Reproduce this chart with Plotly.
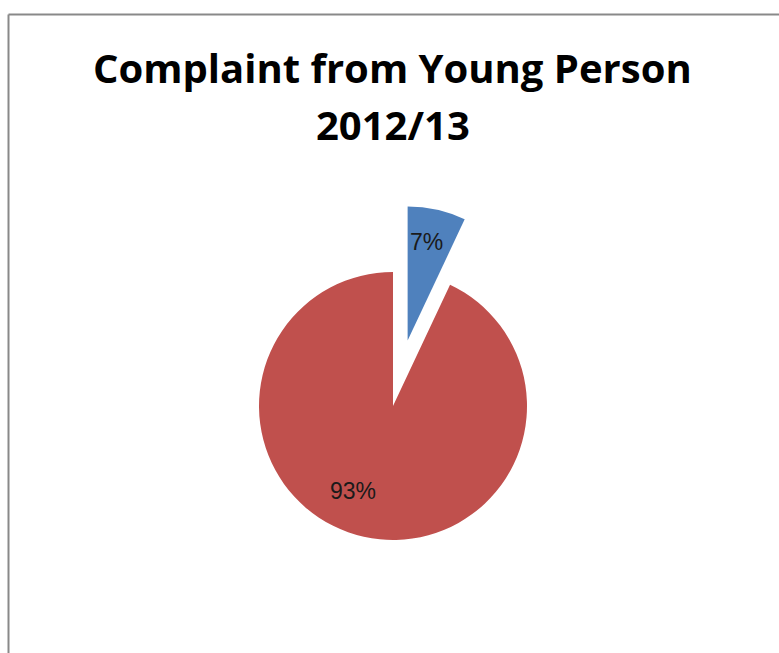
import math
import plotly.graph_objects as go

# Complaint source split, 2012/13
categories = ["Young Person", "Other"]
values = [7, 93]
colors = ["#4F81BD", "#C0504D"]
pulls = [0.5, 0.0]
title_lines = ["Complaint from Young Person", "2012/13"]

W, H = 779, 653

# pie placement in pixels (centre and full diameter including the pull)
cx, cy = 393.0, 406.0
r = 134.0
span = 2 * r * (1 + max(pulls))

dom_x = [(cx - span / 2) / W, (cx + span / 2) / W]
dom_y = [1 - (cy + span / 2) / H, 1 - (cy - span / 2) / H]

fig = go.Figure(
    go.Pie(
        labels=categories,
        values=values,
        marker=dict(colors=colors, line=dict(width=0)),
        pull=pulls,
        sort=False,
        direction="clockwise",
        rotation=0,
        textinfo="none",
        hoverinfo="label+percent",
        showlegend=False,
        domain=dict(x=dom_x, y=dom_y),
    )
)

# percentage labels placed inside each slice
total = sum(values)
label_radius = [0.75, 0.70]
label_angle_shift = [-2.0, 12.5]  # degrees, clockwise
cum = 0.0
for v, p, lr, shift in zip(values, pulls, label_radius, label_angle_shift):
    mid = (cum + v / 2) / total * 2 * math.pi
    cum += v
    ox = cx + p * r * math.sin(mid)
    oy = cy - p * r * math.cos(mid)
    a = mid + math.radians(shift)
    lx = ox + lr * r * math.sin(a)
    ly = oy - lr * r * math.cos(a)
    fig.add_annotation(
        x=lx / W, y=1 - ly / H, xref="paper", yref="paper",
        text=f"{round(v / total * 100)}%", showarrow=False,
        xanchor="center", yanchor="middle",
        font=dict(family="Liberation Sans", size=23, color="#1a1a1a"),
    )

# two-line chart title
title_font = dict(family="Open Sans", size=40, color="black", weight="bold")
for i, line in enumerate(title_lines):
    fig.add_annotation(
        x=392.5 / W, y=1 - (68 + 57 * i) / H, xref="paper", yref="paper",
        text=line, showarrow=False, xanchor="center", yanchor="middle",
        font=title_font,
    )

# chart frame (left and top edges visible)
frame = dict(color="#898989", width=2)
fig.add_shape(type="line", xref="paper", yref="paper",
              x0=8.5 / W, x1=1.02, y0=1 - 14.5 / H, y1=1 - 14.5 / H, line=frame)
fig.add_shape(type="line", xref="paper", yref="paper",
              x0=8.5 / W, x1=8.5 / W, y0=1 - 14.5 / H, y1=-0.02, line=frame)

fig.update_layout(
    width=W, height=H,
    margin=dict(l=0, r=0, t=0, b=0),
    paper_bgcolor="white",
    plot_bgcolor="white",
)

fig.write_html("out.html")
